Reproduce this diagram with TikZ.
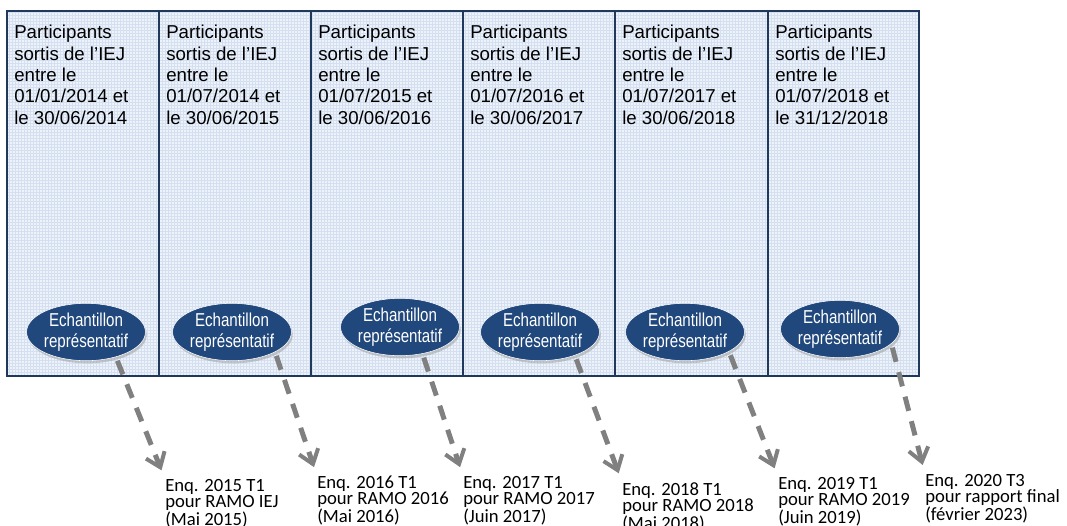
\documentclass[tikz,border=0pt]{standalone}
\usepackage{fontspec}
\setmainfont{Liberation Sans}
\newfontfamily\carlito{Carlito}
\newfontfamily\narrowsans[FakeStretch=0.81]{Liberation Sans}
\usepackage{tikz}
\usetikzlibrary{shapes}
\usetikzlibrary{arrows.meta}
\usetikzlibrary{shadows}
\definecolor{navy}{RGB}{31,56,92}
\definecolor{ovalblue}{RGB}{33,72,124}
\definecolor{paleblue}{RGB}{238,243,250}
\definecolor{gridblue}{RGB}{212,224,241}
\definecolor{arrowgray}{RGB}{128,128,128}
\tikzset{
	colhead/.style = {anchor=north west, align=left, inner sep=0pt,
		font=\fontsize{14pt}{16pt}\selectfont},% texte de colonne
	sample/.style = {ellipse, fill=ovalblue, draw=white, thin, text=white,
		minimum width=81pt, minimum height=43pt, inner sep=0pt, align=center,
		font=\narrowsans\fontsize{14pt}{15.5pt}\selectfont,
		drop shadow={shadow xshift=1pt, shadow yshift=-2pt, fill=black!40}},% echantillon
	survey/.style = {anchor=north west, align=left, inner sep=0pt,
		font=\carlito\fontsize{14pt}{12pt}\selectfont},% enquete
	sendto/.style = {draw=arrowgray, line width=3.75pt, dash pattern=on 11pt off 8pt,
		-{Straight Barb[length=10pt,width=15pt,line width=3pt]},
		shorten <=3pt, shorten >=7pt}% fleche grise
}

\begin{document}
\begin{tikzpicture}[x=0.75pt, y=-0.75pt]
	\useasboundingbox (0,0) rectangle (1067,525);
	\fill[paleblue] (7,11) rectangle (919,376);
	\draw[gridblue, line width=0.3pt, step=2.25pt] (7,376) grid (919,11);
	\draw[navy, line width=1.5pt] (7,11) rectangle (919,376);
	\draw[navy, line width=1.5pt] (159,11) -- (159,376) (311,11) -- (311,376)
		(463,11) -- (463,376) (615,11) -- (615,376) (768,11) -- (768,376);
	\node[colhead] (h1) at (14,25) {Participants\\sortis de l’IEJ\\entre le\\01/01/2014 et\\le 30/06/2014};
	\node[colhead] (h2) at (166,25) {Participants\\sortis de l’IEJ\\entre le\\01/07/2014 et\\le 30/06/2015};
	\node[colhead] (h3) at (318,25) {Participants\\sortis de l’IEJ\\entre le\\01/07/2015 et\\le 30/06/2016};
	\node[colhead] (h4) at (470,25) {Participants\\sortis de l’IEJ\\entre le\\01/07/2016 et\\le 30/06/2017};
	\node[colhead] (h5) at (622,25) {Participants\\sortis de l’IEJ\\entre le\\01/07/2017 et\\le 30/06/2018};
	\node[colhead] (h6) at (775,25) {Participants\\sortis de l’IEJ\\entre le\\01/07/2018 et\\le 31/12/2018};
	\node[sample] (e1) at (86,332) {Echantillon\\représentatif};
	\node[sample] (e2) at (232,332) {Echantillon\\représentatif};
	\node[sample] (e3) at (400,327) {Echantillon\\représentatif};
	\node[sample] (e4) at (540,332) {Echantillon\\représentatif};
	\node[sample] (e5) at (685,332) {Echantillon\\représentatif};
	\node[sample] (e6) at (840,329) {Echantillon\\représentatif};
	\node[survey] (s1) at (165,479) {Enq. 2015 T1\\pour RAMO IEJ\\(Mai 2015)};
	\node[survey] (s2) at (317,476) {Enq. 2016 T1\\pour RAMO 2016\\(Mai 2016)};
	\node[survey] (s3) at (463,476) {Enq. 2017 T1\\pour RAMO 2017\\(Juin 2017)};
	\node[survey] (s4) at (622,482) {Enq. 2018 T1\\pour RAMO 2018\\(Mai 2018)};
	\node[survey] (s5) at (778,477) {Enq. 2019 T1\\pour RAMO 2019\\(Juin 2019)};
	\node[survey] (s6) at (925,474) {Enq. 2020 T3\\pour rapport final\\(février 2023)};
	\draw[sendto] (e1.-40) -- (s1.north west);
	\draw[sendto] (e2.-25) -- (s2.north west);
	\draw[sendto] (e3.-50) -- (s3.north west);
	\draw[sendto] (e4.-34) -- (s4.north west);
	\draw[sendto] (e5.-24) -- (s5.north west);
	\draw[sendto] (e6.-16) -- (s6.north west);
\end{tikzpicture}
\end{document}
